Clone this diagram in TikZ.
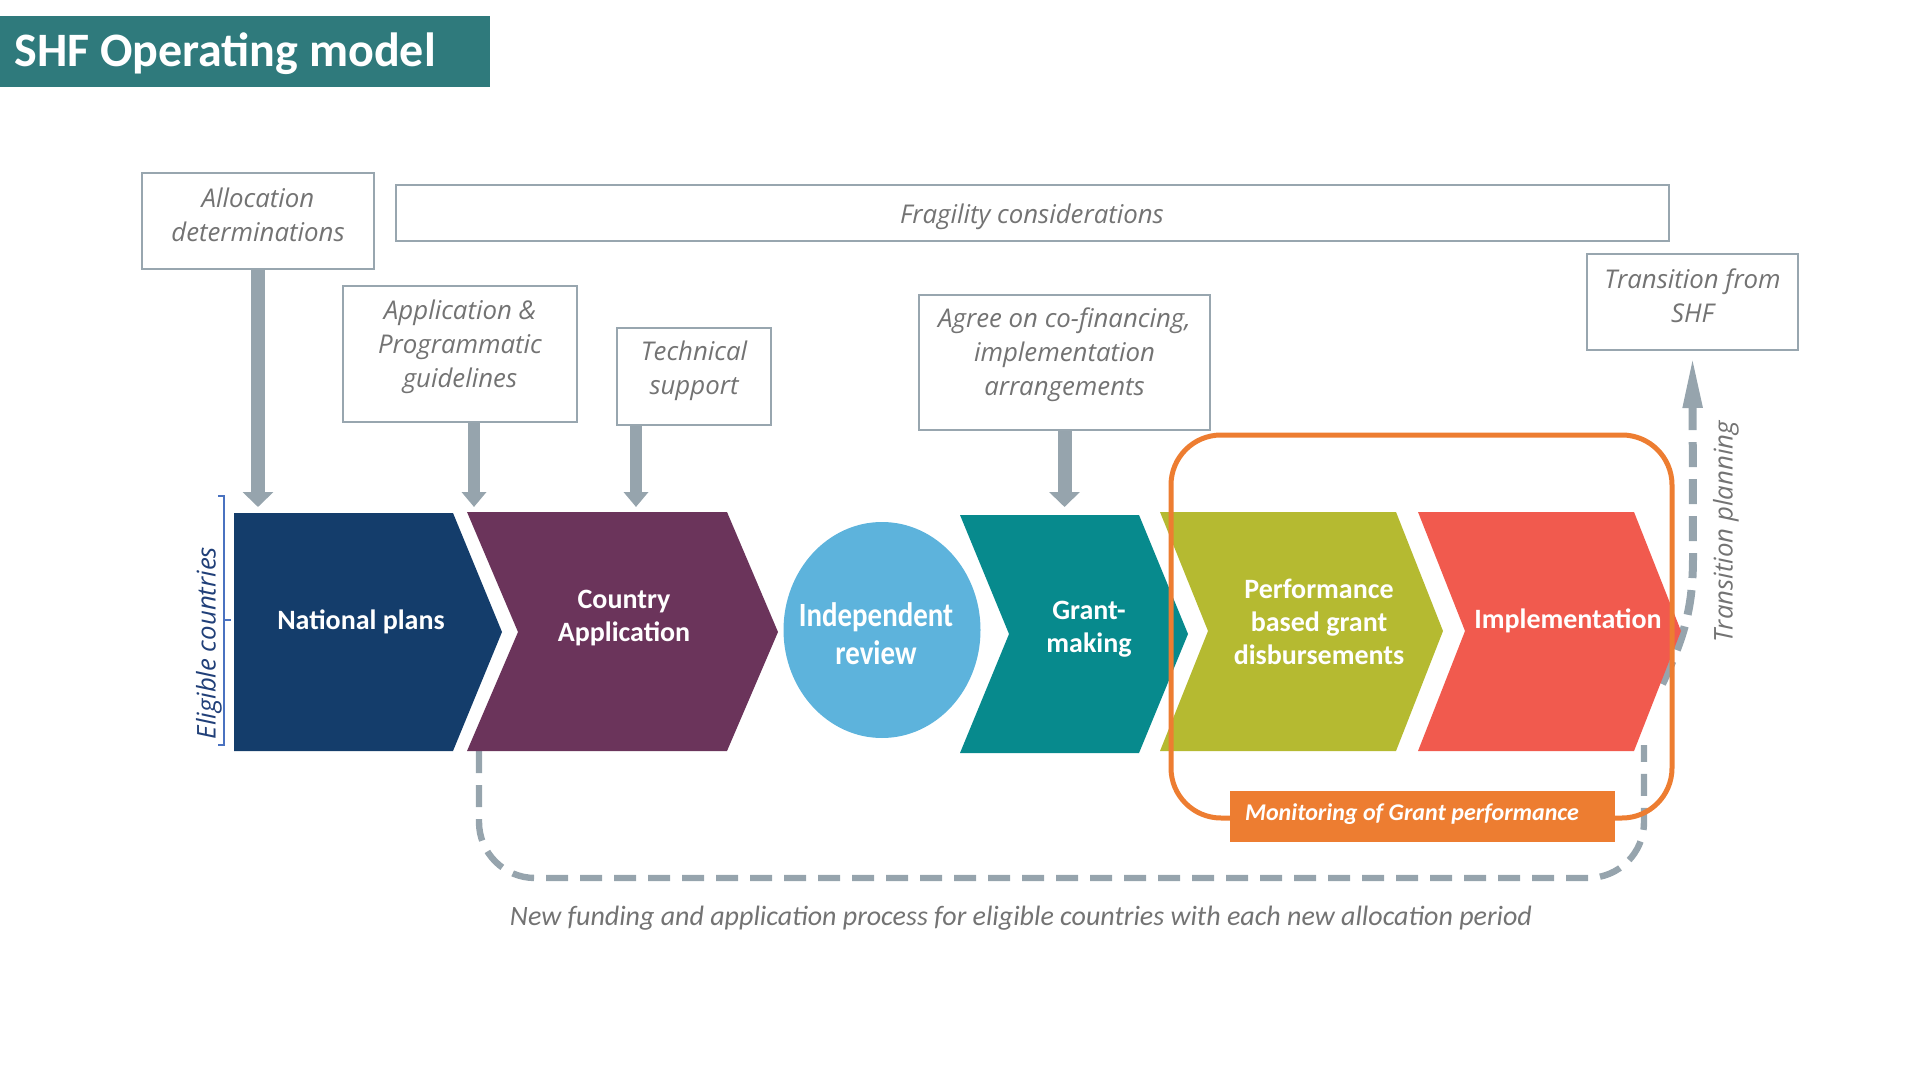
\documentclass[tikz,border=0pt]{standalone}
\usepackage{fontspec}
\setmainfont{Carlito}
\newfontfamily\notefont{Open Sans}
\newfontfamily\narrowfont[FakeStretch=0.85]{Carlito}
\usetikzlibrary{arrows.meta}
\definecolor{titleteal}{HTML}{2F7A7C}
\definecolor{boxgray}{HTML}{98A6AF}
\definecolor{notegray}{HTML}{737373}
\definecolor{arrowgray}{HTML}{96A4AD}
\definecolor{npblue}{HTML}{143D6B}
\definecolor{caplum}{HTML}{6B345B}
\definecolor{irblue}{HTML}{5DB3DC}
\definecolor{gmteal}{HTML}{078A8D}
\definecolor{pbolive}{HTML}{B5BA31}
\definecolor{imred}{HTML}{F15A4E}
\definecolor{monorange}{HTML}{ED7D31}
\definecolor{ecblue}{HTML}{203F78}
\definecolor{ecline}{HTML}{4A72C0}
\tikzset{
  notebox/.style={draw=boxgray, line width=1pt, fill=white, inner sep=0pt},
  notetext/.style={font=\notefont\itshape\fontsize{12.9}{17}\selectfont, text=notegray, align=center, inner sep=0pt},
  steptext/.style={font=\bfseries\fontsize{14}{16.5}\selectfont, text=white, align=center, inner sep=0pt},
  blockarrow/.style={draw=arrowgray, line width=7pt, -{Triangle[length=7.5pt,width=15pt]}},
  thinarrow/.style={draw=arrowgray, line width=6pt, -{Triangle[length=7.5pt,width=12pt]}},
  loopdash/.style={draw=arrowgray, line width=3.2pt, dash pattern=on 11pt off 6pt},
  transdash/.style={draw=arrowgray, line width=4pt, dash pattern=on 12.5pt off 6pt, -{Triangle[length=26pt,width=9pt]}}
}
\begin{document}
\begin{tikzpicture}[x=0.5pt, y=-0.5pt]
  \useasboundingbox (0,0) rectangle (1920,1080);
  % title
  \fill[titleteal] (0,16) rectangle (490,87);
  \node[anchor=west, inner sep=0pt, text=white, font=\bfseries\fontsize{24}{28}\selectfont] (title) at (14,54) {SHF Operating model};

  % input boxes
  \node[notebox, minimum width=116pt, minimum height=48pt] (alloc) at (258,221) {};
  \node[notetext] (alloc-t) at (258,215) {Allocation\\determinations};
  \node[notebox, minimum width=636.5pt, minimum height=28pt] (frag) at (1032.5,213) {};
  \node[notetext] (frag-t) at (1032,217) {Fragility considerations};
  \node[notebox, minimum width=117pt, minimum height=68pt] (app) at (460,354) {};
  \node[notetext] (app-t) at (460,347) {Application \&\\Programmatic\\guidelines};
  \node[notebox, minimum width=77pt, minimum height=48.5pt] (tech) at (694,376.5) {};
  \node[notetext] (tech-t) at (694,371) {Technical\\support};
  \node[notebox, minimum width=145.5pt, minimum height=67.5pt] (agree) at (1064.5,362.5) {};
  \node[notetext] (agree-t) at (1064.5,355) {Agree on co-financing,\\implementation\\arrangements};
  \node[notebox, minimum width=105.5pt, minimum height=48pt] (trans) at (1692.5,302) {};
  \node[notetext] (trans-t) at (1692.5,296) {Transition from\\SHF};

  \coordinate (rowtop) at (0,507);
  \draw[blockarrow] (alloc.south) -- (alloc.south |- rowtop);
  \draw[thinarrow] ([xshift=7pt]app.south) -- ([xshift=7pt]app.south |- rowtop);
  \draw[thinarrow] ([xshift=-29pt]tech.south) -- ([xshift=-29pt]tech.south |- rowtop);
  \draw[blockarrow] (agree.south) -- (agree.south |- rowtop);

  % loops behind the steps
  \coordinate (ca-foot) at (479,751);
  \coordinate (im-foot) at (1644,745);
  \draw[loopdash, rounded corners=28pt] (ca-foot) |- (1644,878) -- (im-foot);
  \coordinate (im-tip) at (1662,684);
  \draw[transdash] (im-tip) .. controls (1688,630) and (1693,600) .. (1693,555) -- ([yshift=-2.5pt]trans.south);

  % steps
  \fill[npblue] (234,513) -- (453,513) -- (502,632) -- (453,751) -- (234,751) -- cycle;
  \fill[caplum] (467,512) -- (727,512) -- (778,632) -- (727,751) -- (467,751) -- (518,632) -- cycle;
  \fill[irblue] (882,630) ellipse [x radius=49.25pt, y radius=54pt];
  \fill[gmteal] (960,515) -- (1139,515) -- (1188,634) -- (1139,753) -- (960,753) -- (1009,634) -- cycle;
  \fill[pbolive] (1160,512) -- (1396,512) -- (1443,631) -- (1396,751) -- (1160,751) -- (1208,631) -- cycle;
  \fill[imred] (1418,512) -- (1634,512) -- (1681,631) -- (1634,751) -- (1418,751) -- (1465,631) -- cycle;

  \node[steptext] (natl) at (361,622) {National plans};
  \node[steptext] (ca) at (624,618) {Country\\Application};
  \node[steptext, font=\narrowfont\bfseries\fontsize{17}{19}\selectfont] (ir) at (876,634) {Independent\\review};
  \node[steptext] (gm) at (1089,629) {Grant-\\making};
  \node[steptext] (pb) at (1319,622) {Performance\\based grant\\disbursements};
  \node[steptext] (im) at (1568,621) {Implementation};

  % monitoring frame
  \draw[monorange, line width=2.5pt, rounded corners=25pt] (1171,435) rectangle (1672,818);
  \node[fill=monorange, minimum width=192.5pt, minimum height=25.5pt, inner sep=0pt] (mon) at (1422.5,816.5) {};
  \node[inner sep=0pt, text=white, font=\bfseries\itshape\fontsize{12}{14}\selectfont] (mon-t) at (1412,814) {Monitoring of Grant performance};

  % side labels
  \node[notetext, rotate=90] (tp) at (1726,532) {Transition planning};
  \node[notetext, rotate=90, text=ecblue] (ec) at (209,643) {Eligible countries};
  \draw[ecline, line width=0.75pt] (218,496) -- (224,496) -- (224,745) -- (218,745);
  \draw[ecline, line width=0.75pt] (224,620) -- (231,620);

  \node[inner sep=0pt, text=notegray, font=\itshape\fontsize{14}{16}\selectfont] (foot) at (1021,918) {New funding and application process for eligible countries with each new allocation period};
\end{tikzpicture}
\end{document}
